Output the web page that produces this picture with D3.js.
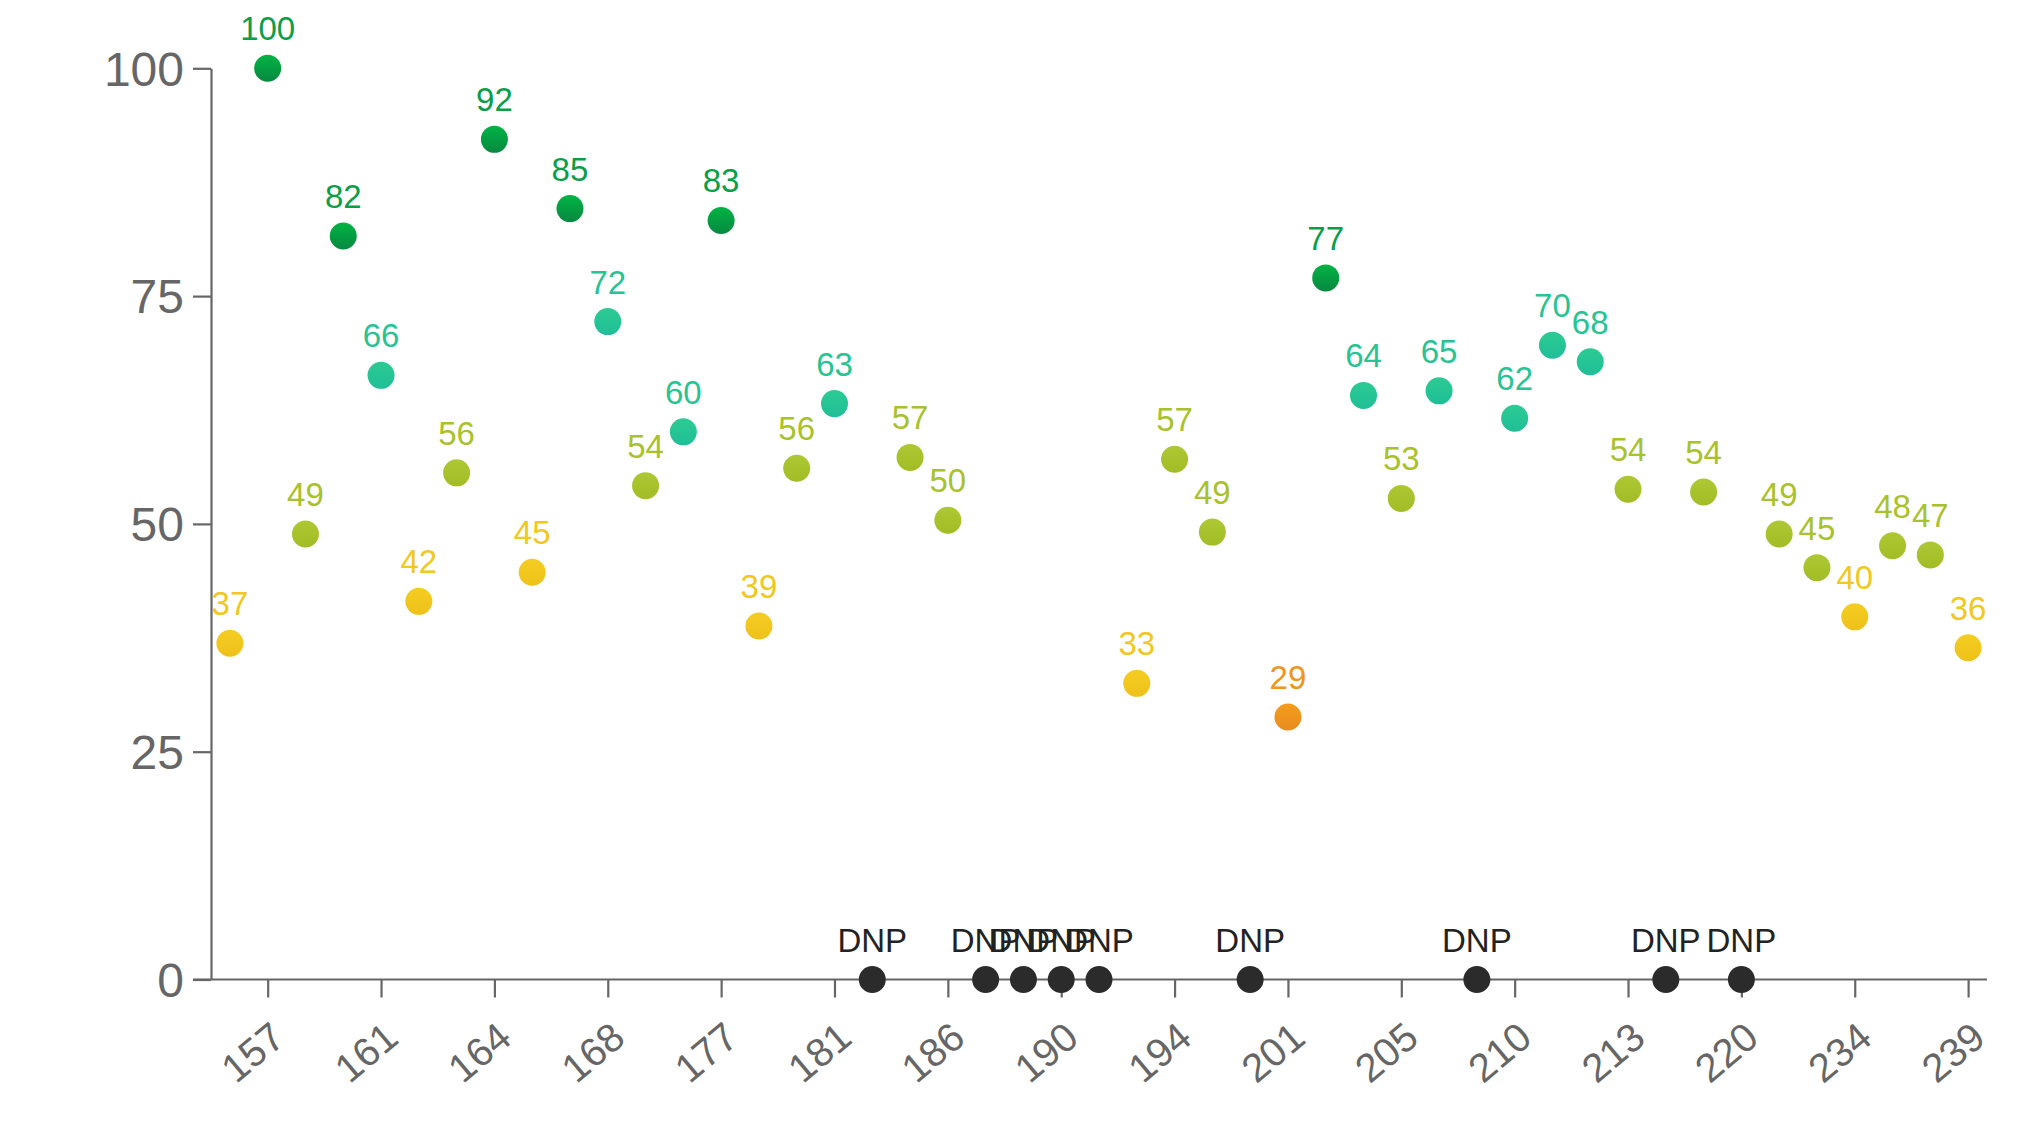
<!DOCTYPE html>
<html>
<head>
<meta charset="utf-8">
<script src="https://cdn.jsdelivr.net/npm/d3@7"></script>
<style>
  html, body { margin: 0; padding: 0; background: #fff; }
  svg { display: block; font-family: "Liberation Sans", Arial, sans-serif; }
</style>
</head>
<body>
<svg id="chart" width="2037" height="1125"></svg>
<script>
// ---- data ----
const categories = [156,157,159,160,161,162,163,164,165,167,168,170,173,177,178,180,181,183,184,186,187,188,190,191,192,194,196,198,201,202,204,205,207,208,210,211,212,213,215,217,220,224,229,234,236,237,239].map(String);
// null = DNP (did not play)
const scores = [36.9,100,48.9,81.6,66.3,41.5,55.6,92.2,44.7,84.6,72.2,54.2,60.1,83.3,38.8,56.1,63.2,null,57.3,50.4,null,null,null,null,32.5,57.1,49.1,null,28.8,77.0,64.1,52.8,64.6,null,61.6,69.6,67.8,53.8,null,53.5,null,48.9,45.2,39.8,47.6,46.6,36.4];
const xTickLabels = ["157","161","164","168","177","181","186","190","194","201","205","210","213","220","234","239"];
const yTickValues = [0,25,50,75,100];
const bandLimits = [30,45,60,75];
const bandNames = ["orange","yellow","yellowgreen","teal","green"];

// ---- styles ----
const palette = {
  orange:      {top:"#f49d1c", bottom:"#e88c1f", label:"#ee9620"},
  yellow:      {top:"#f4cd22", bottom:"#eec11a", label:"#f0c81e"},
  yellowgreen: {top:"#adc833", bottom:"#a2bc25", label:"#a8c22c"},
  teal:        {top:"#2ccb93", bottom:"#1fbe97", label:"#26c493"},
  green:       {top:"#00b444", bottom:"#088840", label:"#0a9e48"},
  dnp:         {top:"#2b2b2b", bottom:"#2b2b2b", label:"#222222"}
};

const svg = d3.select("#chart");
const mLeft = 211, mRight = 1987, mTop = 68.3, mBottom = 979.5;

const x = d3.scalePoint().domain(categories).range([mLeft, mRight]).padding(0.5);
const y = d3.scaleLinear().domain([0, 100]).range([mBottom, mTop]);
const band = d3.scaleThreshold().domain(bandLimits).range(bandNames);

const data = categories.map((c, i) => ({cat: c, v: scores[i]}));
const cls = d => d.v == null ? "dnp" : band(d.v);

// gradients
const defs = svg.append("defs");
Object.entries(palette).forEach(([k, p]) => {
  const g = defs.append("linearGradient").attr("id", "g-" + k)
    .attr("x1", 0).attr("y1", 0).attr("x2", 0).attr("y2", 1);
  g.append("stop").attr("offset", "0%").attr("stop-color", p.top);
  g.append("stop").attr("offset", "100%").attr("stop-color", p.bottom);
});
defs.append("clipPath").attr("id", "plotclip")
  .append("rect").attr("x", mLeft).attr("y", 0).attr("width", 2037 - mLeft).attr("height", 1125);

// y axis
const yAxis = svg.append("g").attr("transform", `translate(${mLeft},0)`)
  .call(d3.axisLeft(y).tickValues(yTickValues).tickSize(18).tickSizeOuter(0).tickPadding(9));
yAxis.selectAll("path, line").attr("stroke", "#666").attr("stroke-width", 2.2);
yAxis.selectAll("text").attr("fill", "#666").style("font-size", "48px").attr("dy", "0.35em");

// x axis
const xAxis = svg.append("g").attr("transform", `translate(0,${mBottom})`)
  .call(d3.axisBottom(x).tickValues(xTickLabels).tickSize(18).tickSizeOuter(0));
xAxis.select(".domain").attr("d", `M${mLeft - 18},0H${mRight}`);
xAxis.selectAll("path, line").attr("stroke", "#666").attr("stroke-width", 2.2);
xAxis.selectAll("text")
  .attr("fill", "#666").style("font-size", "40px")
  .attr("x", 0).attr("y", 0).attr("dy", 0)
  .attr("text-anchor", "end")
  .attr("transform", "translate(19,62) rotate(-40)");

// dots
svg.append("g").selectAll("circle").data(data).join("circle")
  .attr("cx", d => x(d.cat))
  .attr("cy", d => y(d.v == null ? 0 : d.v))
  .attr("r", 13.5)
  .attr("fill", d => `url(#g-${cls(d)})`);

// labels
svg.append("g").attr("clip-path", "url(#plotclip)")
  .selectAll("text").data(data).join("text")
  .attr("x", d => x(d.cat))
  .attr("y", d => y(d.v == null ? 0 : d.v) - 28)
  .attr("text-anchor", "middle")
  .style("font-size", "33px")
  .attr("fill", d => palette[cls(d)].label)
  .text(d => d.v == null ? "DNP" : Math.round(d.v));
</script>
</body>
</html>
